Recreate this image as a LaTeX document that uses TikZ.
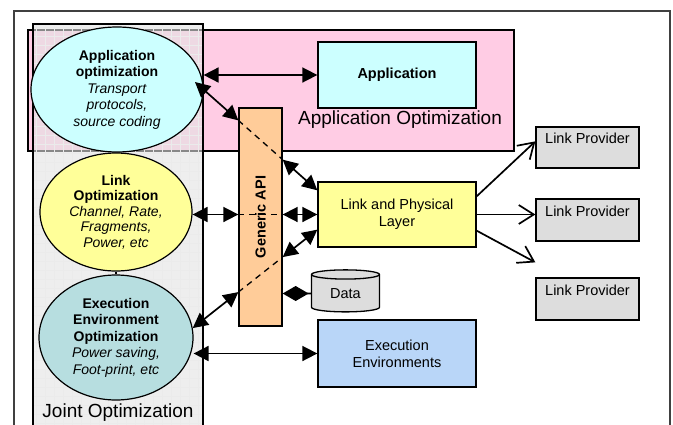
\documentclass[tikz,border=0pt]{standalone}
\usepackage{fontspec}
\setmainfont{Liberation Sans}
\usetikzlibrary{arrows.meta,shapes.geometric,calc}

\definecolor{apppink}{HTML}{FFCCE4}
\definecolor{appcyan}{HTML}{CCFFFF}
\definecolor{linkyellow}{HTML}{FFFF99}
\definecolor{apipeach}{HTML}{FFCC99}
\definecolor{execblue}{HTML}{B9D6F8}
\definecolor{execteal}{HTML}{B7DEE0}
\definecolor{provgray}{HTML}{DDDDDD}
\definecolor{jointgray}{HTML}{E3E3E3}

\begin{document}
\begin{tikzpicture}
[x=1pt,y=-1pt,
every node/.style={font=\fontsize{14.5}{17}\selectfont},
box/.style={draw,line width=1.3pt,inner sep=0pt,align=center},
opt/.style={draw,ellipse,line width=1.2pt,inner sep=0pt,align=center,
  font=\fontsize{14}{16.5}\selectfont},
region/.style={draw,line width=1.2pt},
lab/.style={font=\fontsize{19}{22}\selectfont},
myedge/.style={>={Triangle[length=15pt,width=15pt]},line width=1.7pt,<->},
apiedge/.style={line width=1.3pt,dash pattern=on 6pt off 5pt},
provedge/.style={-{Straight Barb[length=15pt,width=19pt]},line width=1.7pt}]
\useasboundingbox (0,0) rectangle (673,424);
%%%%%%%%%%
%% frames
\draw[black!75,line width=1.2pt] (14,11) rectangle (670,440);
\draw[region,fill=apppink] (28,30) rectangle (514,151);
\fill[jointgray,fill opacity=.6] (33,24) rectangle (203,440);
\begin{scope}
\clip (33,24) rectangle (203,440);
\draw[black!8,line width=.3pt,step=9pt] (33,440) grid (203,24);
\end{scope}
\draw[region] (33,24) rectangle (203,440);
%% optimization ellipses
\node (appopt) [opt,fill=appcyan,minimum width=172pt,minimum height=125pt] at (117,89.5)
  {\textbf{Application}\\\textbf{optimization}\\\textit{Transport}\\\textit{protocols,}\\\textit{source coding}};
\node (linkopt) [opt,fill=linkyellow,minimum width=152pt,minimum height=118pt,
  font=\fontsize{14}{15.5}\selectfont] at (116,212)
  {\textbf{Link}\\\textbf{Optimization}\\\textit{Channel, Rate,}\\\textit{Fragments,}\\\textit{Power, etc}};
\node (execopt) [opt,fill=execteal,minimum width=154pt,minimum height=125pt] at (116,337.5)
  {\textbf{Execution}\\\textbf{Environment}\\\textbf{Optimization}\\\textit{Power saving,}\\\textit{Foot-print, etc}};
\draw[line width=1.2pt] (linkopt.south) -- (execopt.north);
%% boxes
\node (app) [box,fill=appcyan,minimum width=158pt,minimum height=66pt] at (397,75) {\textbf{Application}};
\node (api) [box,fill=apipeach,minimum width=43pt,minimum height=218pt,
  label={[rotate=90]center:\textbf{Generic API}}] at (260.5,217) {};
\node (link) [box,fill=linkyellow,minimum width=158pt,minimum height=65pt] at (397,214.5) {Link and Physical\\Layer};
\node (data) [cylinder,shape border rotate=90,draw,line width=1.3pt,fill=provgray,aspect=0.3,
  minimum height=42pt,minimum width=68pt,inner sep=0pt] at (345.5,293.5) {Data};
\node (exec) [box,fill=execblue,minimum width=158pt,minimum height=67pt] at (397,353.5) {Execution\\Environments};
\node (lp1) [box,fill=provgray,minimum width=103pt,minimum height=41pt,text height=10pt,text depth=18pt] at (587.5,147.5) {Link Provider};
\node (lp2) [box,fill=provgray,minimum width=103pt,minimum height=42pt,text height=10pt,text depth=18pt] at (587.5,220) {Link Provider};
\node (lp3) [box,fill=provgray,minimum width=103pt,minimum height=42pt,text height=10pt,text depth=18pt] at (587.5,299) {Link Provider};
%% region labels
\node (appoptlab) [lab] at (400,120) {Application Optimization};
\node (jointlab) [lab] at (118,413) {Joint Optimization};
%% edges
\draw[myedge] (app.west -| appopt.east) -- (app.west);
\draw[myedge] (execopt.east |- exec.west) -- (exec.west);
% through the API
\coordinate (t1) at ([xshift=-8pt]appopt.5);
\coordinate (t2) at ([yshift=-9pt]link.north west);
\path (intersection of t1--t2 and api.north west--api.south west) coordinate (t1a);
\path (intersection of t1--t2 and api.north east--api.south east) coordinate (t1b);
\draw[myedge] (t1) -- (t1a);
\draw[apiedge] (t1a) -- (t1b);
\draw[myedge] (t1b) -- (t2);
\draw[myedge] (linkopt.east |- link.west) -- (api.west |- link.west);
\draw[apiedge] (api.west |- link.west) -- (api.east |- link.west);
\draw[myedge] (api.east |- link.west) -- (link.west);
\coordinate (t3) at (execopt.7);
\coordinate (t4) at ([yshift=18pt]link.south west);
\path (intersection of t3--t4 and api.north west--api.south west) coordinate (t3a);
\path (intersection of t3--t4 and api.north east--api.south east) coordinate (t3b);
\draw[myedge] (t3) -- (t3a);
\draw[apiedge] (t3a) -- (t3b);
\draw[myedge] (t3b) -- (t4);
\draw[line width=1.6pt,{Diamond[length=26pt,width=15pt]}-] (api.east |- data.center) -- (data.west);
% link providers
\draw[provedge] ([yshift=-15pt]link.north east) -- ([yshift=-15pt]lp1.north west);
\draw[provedge] (link.east) -- (link.east -| lp2.west);
\draw[provedge] ([yshift=17pt]link.south east) -- ([yshift=15pt]lp3.north west);
\end{tikzpicture}
\end{document}
